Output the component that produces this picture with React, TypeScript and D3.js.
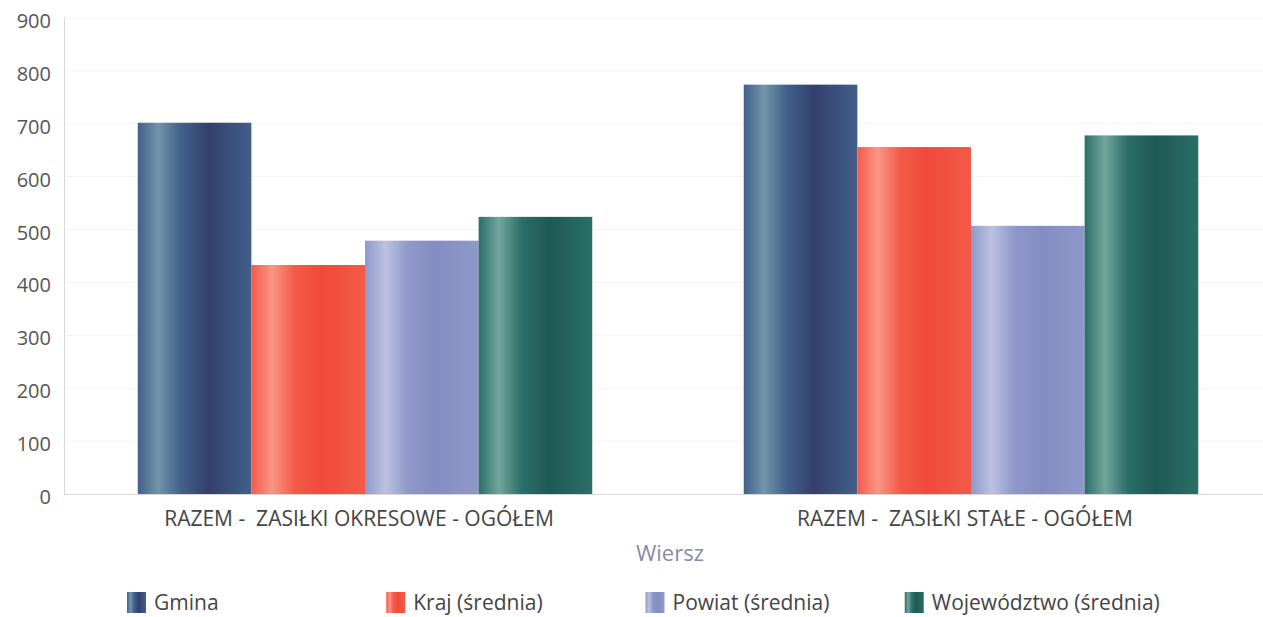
import React from 'react';
import * as d3 from 'd3';

const categories = ['RAZEM -  ZASIŁKI OKRESOWE - OGÓŁEM', 'RAZEM -  ZASIŁKI STAŁE - OGÓŁEM'];
const seriesNames = ['Gmina', 'Kraj (średnia)', 'Powiat (średnia)', 'Województwo (średnia)'];
const gminaValues = [702, 774];
const krajValues = [433, 656];
const powiatValues = [479, 507];
const wojValues = [524, 678];
const yTicks = [0, 100, 200, 300, 400, 500, 600, 700, 800, 900];

// base, light stripe, dark stripe
const palette = [
  ['#41608a', '#7394aa', '#343f6d'],
  ['#f45a48', '#fb9585', '#f04a3c'],
  ['#8f98c9', '#bcc1e2', '#838dc2'],
  ['#2b6e68', '#72a69d', '#1e5955'],
];

const W = 1263;
const H = 617;
const font = '"Open Sans", sans-serif';

export default function App() {
  const values = [gminaValues, krajValues, powiatValues, wojValues];

  const x0 = d3.scaleBand<string>()
    .domain(categories)
    .range([62, 1274])
    .paddingInner(0.25)
    .paddingOuter(0.125);

  const x1 = d3.scaleBand<string>()
    .domain(seriesNames)
    .range([0, x0.bandwidth()]);

  const y = d3.scaleLinear().domain([0, 900]).range([494, 18]);

  const legendX = d3.scaleBand<string>().domain(seriesNames).range([127, 1164]);

  return (
    <div style={{ position: 'absolute', left: 0, top: 0 }}>
      <svg width={W} height={H} style={{ display: 'block', background: '#fff' }}>
        <defs>
          {palette.map((c, i) => (
            <linearGradient key={i} id={`grad${i}`} x1="0" x2="1" y1="0" y2="0">
              <stop offset="0%" stopColor={c[0]} />
              <stop offset="18%" stopColor={c[1]} />
              <stop offset="38%" stopColor={c[0]} />
              <stop offset="62%" stopColor={c[2]} />
              <stop offset="100%" stopColor={c[0]} />
            </linearGradient>
          ))}
        </defs>

        {/* grid */}
        {yTicks.slice(1).map(t => (
          <line key={t} x1={66} x2={1263} y1={y(t)} y2={y(t)} stroke="#f4f4f4" strokeWidth={1} />
        ))}

        {/* axes */}
        <line x1={64.5} x2={64.5} y1={17} y2={y(0)} stroke="#d8d8d8" />
        <line x1={64} x2={1263} y1={y(0) + 0.5} y2={y(0) + 0.5} stroke="#d8d8d8" />

        {yTicks.map(t => (
          <text key={t} x={51} y={y(t) + 3} dy="0.35em" textAnchor="end"
            fontFamily={font} fontSize={20} fill="#555">{t}</text>
        ))}

        {/* bars */}
        {categories.map((cat, ci) => (
          <g key={cat} transform={`translate(${x0(cat)},0)`}>
            {seriesNames.map((s, si) => (
              <rect key={s} x={x1(s)} y={y(values[si][ci])}
                width={x1.bandwidth()} height={y(0) - y(values[si][ci])}
                fill={`url(#grad${si})`} />
            ))}
          </g>
        ))}

        {categories.map(cat => (
          <text key={cat} x={(x0(cat) as number) + x0.bandwidth() / 2 - 6} y={526}
            textAnchor="middle" fontFamily={font} fontSize={21} fill="#444"
            style={{ whiteSpace: 'pre' }}>{cat}</text>
        ))}

        <text x={670} y={561} textAnchor="middle" fontFamily={font} fontSize={22} fill="#8a8aa8">Wiersz</text>

        {/* legend */}
        {seriesNames.map((s, si) => (
          <g key={s} transform={`translate(${legendX(s)},592)`}>
            <rect x={0} y={0} width={19} height={21} fill={`url(#grad${si})`} />
            <text x={27} y={11} dy="0.35em" fontFamily={font} fontSize={21} fill="#444">{s}</text>
          </g>
        ))}
      </svg>
    </div>
  );
}
